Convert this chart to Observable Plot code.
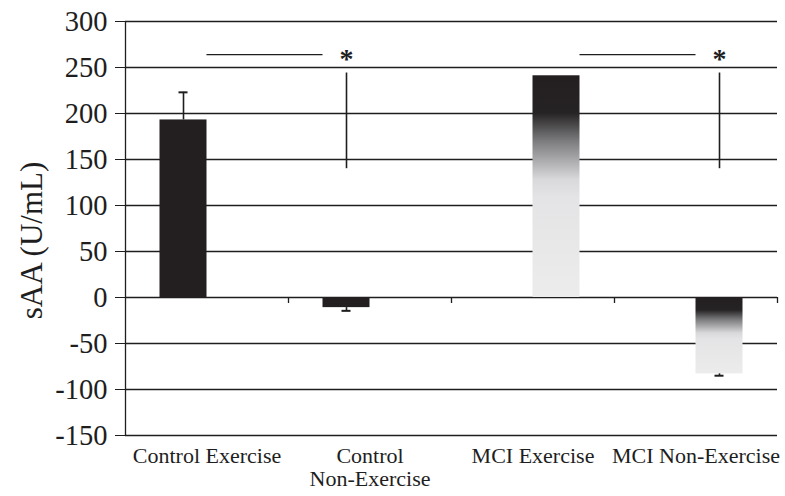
<!DOCTYPE html>
<html>
<head>
<meta charset="utf-8">
<script src="https://cdn.jsdelivr.net/npm/d3@7"></script>
<script src="https://cdn.jsdelivr.net/npm/@observablehq/plot@0.6"></script>
<style>
  html, body { margin: 0; padding: 0; background: #ffffff; }
  #chart svg { display: block; }
</style>
</head>
<body>
<div id="chart"></div>
<script>
// ---- data ----
const categories = ["Control Exercise", "Control\nNon-Exercise", "MCI Exercise", "MCI Non-Exercise"];
const groups = ["Control", "Control", "MCI", "MCI"];
const means = [193, -11, 241, -83];
const errors = [30, 3.5, 0, 2];
const yTicks = [-150, -100, -50, 0, 50, 100, 150, 200, 250, 300];
const yLabel = "sAA (U/mL)";
// significance annotations
const sigFrom = [0, 2];          // index of left category
const sigTo = [1, 3];            // index of right category
const sigLineY = [264, 264];
const sigBarTop = [244, 244];
const sigBarBottom = [140, 140];
const sigMark = ["*", "*"];

// ---- layout / style constants ----
const W = 785, H = 496;
const ML = 125, MR = 8, MT = 21, MB = 61;
const bandPx = (W - ML - MR) / categories.length;
const barFrac = 47 / bandPx; // bar width as fraction of a category band
const ink = "#1e1e1e";
const font = "'Liberation Serif', 'Times New Roman', serif";

// bar edges: Control bars sit left of the category centre, MCI bars right of it
const edges = i => groups[i] === "Control" ? [i - barFrac, i] : [i, i + barFrac];
const centre = i => (edges(i)[0] + edges(i)[1]) / 2;

const rows = categories.map((c, i) => ({
  i, category: c, group: groups[i], mean: means[i], err: errors[i]
}));
const errRows = rows.filter(d => d.err > 0).map(d => ({
  ...d, end: d.mean + Math.sign(d.mean) * d.err
}));
const sigRows = sigFrom.map((a, k) => ({
  x1: edges(a)[1], x2: edges(sigTo[k])[0], xc: centre(sigTo[k]),
  y: sigLineY[k], top: sigBarTop[k], bottom: sigBarBottom[k], mark: sigMark[k]
}));
const boundaries = categories.map((c, i) => i + 0.5);

const svg = Plot.plot({
  width: W, height: H,
  marginLeft: ML, marginRight: MR, marginTop: MT, marginBottom: MB,
  style: {fontFamily: font, fontSize: "28.5px", color: ink, background: "#fff", overflow: "visible"},
  x: {type: "linear", domain: [-0.5, categories.length - 0.5], axis: null},
  y: {domain: [-150, 300], ticks: yTicks, tickSize: 10, tickPadding: 8, label: null, tickFormat: d => String(d)},
  marks: [
    // horizontal gridlines
    Plot.ruleY(yTicks, {stroke: ink, strokeWidth: 1.4}),
    // bars
    Plot.rectY(rows.filter(d => d.group === "Control"), {
      x1: d => edges(d.i)[0], x2: d => edges(d.i)[1], y1: 0, y2: "mean", fill: "#231f20"
    }),
    Plot.rectY(rows.filter(d => d.group === "MCI"), {
      x1: d => edges(d.i)[0], x2: d => edges(d.i)[1], y1: 0, y2: "mean", fill: "url(#mciGrad)"
    }),
    // error bars
    Plot.ruleX(errRows, {x: d => centre(d.i), y1: "mean", y2: "end", stroke: ink, strokeWidth: 1.6}),
    Plot.ruleY(errRows, {x1: d => centre(d.i), x2: d => centre(d.i), y: "end",
      insetLeft: -4.5, insetRight: -4.5, stroke: ink, strokeWidth: 2}),
    // y axis line
    Plot.ruleX([-0.5], {stroke: ink, strokeWidth: 1.3}),
    // category boundary ticks on the zero line
    Plot.ruleX(boundaries, {x: d => d, y1: 0, y2: 0, insetBottom: -6, stroke: ink, strokeWidth: 1.3}),
    // significance annotations
    Plot.ruleY(sigRows, {x1: "x1", x2: "x2", y: "y", stroke: ink, strokeWidth: 1.3}),
    Plot.ruleX(sigRows, {x: "xc", y1: "bottom", y2: "top", stroke: ink, strokeWidth: 1.6}),
    Plot.text(sigRows, {x: "xc", y: "y", text: "mark", fontSize: 28, fontWeight: "bold",
      dy: 4, fill: ink}),
    // category labels
    Plot.text(categories, {x: (d, i) => i, text: d => d, frameAnchor: "bottom", lineAnchor: "top",
      dy: 11, fontSize: 22, lineHeight: 1.05, fill: ink}),
    // y axis title
    Plot.text([yLabel], {text: d => d, frameAnchor: "left", textAnchor: "middle", rotate: -90,
      dx: -93, dy: 12, fontSize: 31, fill: ink})
  ]
});

// gradient used by the MCI bars
const defs = d3.select(svg).insert("defs", ":first-child");
const grad = defs.append("linearGradient")
  .attr("id", "mciGrad").attr("x1", 0).attr("y1", 0).attr("x2", 0).attr("y2", 1);
[[0, "#231f20"], [0.17, "#262324"], [0.3, "#7e7e80"], [0.47, "#d9d9db"], [0.55, "#e4e4e6"], [1, "#ececec"]]
  .forEach(([o, c]) => grad.append("stop").attr("offset", o).attr("stop-color", c));

document.getElementById("chart").appendChild(svg);
</script>
</body>
</html>
